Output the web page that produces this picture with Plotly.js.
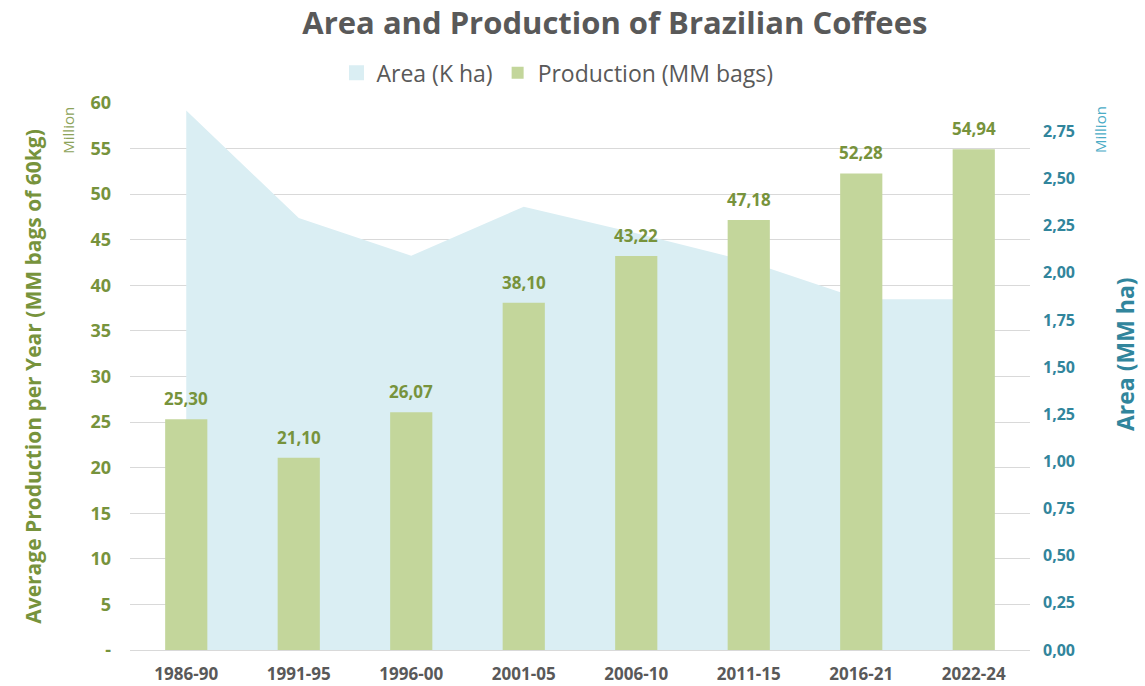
<!DOCTYPE html>
<html>
<head>
<meta charset="utf-8">
<script src="https://cdn.plot.ly/plotly-3.0.1.min.js"></script>
<style>html,body{margin:0;padding:0;background:#fff;}#chart{width:1145px;height:686px;}</style>
</head>
<body>
<div id="chart"></div>
<script>
const categories = ["1986-90","1991-95","1996-00","2001-05","2006-10","2011-15","2016-21","2022-24"];
const production = [25.30, 21.10, 26.07, 38.10, 43.22, 47.18, 52.28, 54.94];
const area = [2.86, 2.29, 2.09, 2.35, 2.21, 2.06, 1.86, 1.86];
const leftTickVals = [0,5,10,15,20,25,30,35,40,45,50,55,60];
const leftTickText = ["-","5","10","15","20","25","30","35","40","45","50","55","60"];
const rightTickVals = [0,0.25,0.5,0.75,1,1.25,1.5,1.75,2,2.25,2.5,2.75];

const FONT = "'Open Sans', sans-serif";
const GREEN = "#77933C";
const TEAL = "#31859C";
const GRAY = "#595959";
const AREA_COLOR = "#DAEEF3";
const BAR_COLOR = "#C3D69B";

const traces = [
  {
    type: "scatter", mode: "markers", name: "Area (K ha)",
    x: [null], y: [null], yaxis: "y",
    marker: {symbol: "square", size: 15, color: AREA_COLOR}, showlegend: true
  },
  {
    type: "scatter", mode: "lines", name: "Area (K ha)",
    x: categories, y: area, yaxis: "y",
    fill: "tozeroy", fillcolor: AREA_COLOR,
    line: {width: 0, color: AREA_COLOR}, showlegend: false
  },
  {
    type: "bar", name: "Production (MM bags)",
    x: categories, y: production, yaxis: "y2",
    marker: {color: BAR_COLOR}, width: 0.375
  }
];

const labelAnnotations = categories.map((c, i) => ({
  x: c, y: production[i], xref: "x", yref: "y2",
  text: "<b>" + production[i].toFixed(2).replace(".", ",") + "</b>",
  showarrow: false, xanchor: "center", yanchor: "bottom", yshift: 7,
  font: {family: FONT, size: 17, color: GREEN}
}));

const layout = {
  width: 1145, height: 686,
  margin: {l: 130, r: 115, t: 103, b: 36},
  paper_bgcolor: "#fff", plot_bgcolor: "rgba(0,0,0,0)",
  separators: ",.",
  font: {family: FONT, color: GRAY},
  title: {
    text: "<b>Area and Production of Brazilian Coffees</b>",
    font: {family: FONT, size: 31, color: GRAY},
    x: 0.537, xanchor: "center", y: 0.966, yanchor: "middle"
  },
  showlegend: true,
  legend: {
    orientation: "h", x: 0.475, xanchor: "center", y: 1.055, yanchor: "middle",
    font: {family: FONT, size: 23, color: GRAY},
    traceorder: "normal", itemwidth: 30
  },
  xaxis: {
    type: "category", showgrid: false, zeroline: false,
    showline: true, linecolor: "#D9D9D9", linewidth: 1,
    ticks: "", tickfont: {family: FONT, size: 17, color: GRAY, weight: "bold"},
    ticklabelstandoff: 9, fixedrange: true
  },
  yaxis: {
    side: "right", range: [0, 2.9], showgrid: false, zeroline: false,
    tickvals: rightTickVals, tickformat: ".2f",
    tickfont: {family: FONT, size: 16, color: TEAL, weight: "bold"},
    ticks: "", ticklabelstandoff: 12
  },
  yaxis2: {
    overlaying: "y", side: "left", range: [0, 60],
    showgrid: true, gridcolor: "#D9D9D9", gridwidth: 1, zeroline: false,
    tickvals: leftTickVals, ticktext: leftTickText,
    tickfont: {family: FONT, size: 18, color: GREEN, weight: "bold"},
    ticks: "", ticklabelstandoff: 18,
    title: {text: "<b>Average Production per Year (MM bags of 60kg)</b>", font: {family: FONT, size: 21, color: GREEN}, standoff: 43}
  },
  annotations: labelAnnotations.concat([
    {text: "<b>Area (MM ha)</b>", xref: "paper", yref: "paper", x: 1.1056, y: 0.541, xanchor: "center", yanchor: "middle",
     textangle: -90, showarrow: false, font: {family: FONT, size: 23, color: TEAL}},
    {text: "Million", xref: "paper", yref: "paper", x: -0.069, y: 0.951, xanchor: "center", yanchor: "middle",
     textangle: -90, showarrow: false, font: {family: FONT, size: 15, color: "#8DA35A"}},
    {text: "Million", xref: "paper", yref: "paper", x: 1.078, y: 0.951, xanchor: "center", yanchor: "middle",
     textangle: -90, showarrow: false, font: {family: FONT, size: 15, color: "#4BACC6"}}
  ])
};

Plotly.newPlot("chart", traces, layout, {displayModeBar: false, staticPlot: true});
</script>
</body>
</html>
